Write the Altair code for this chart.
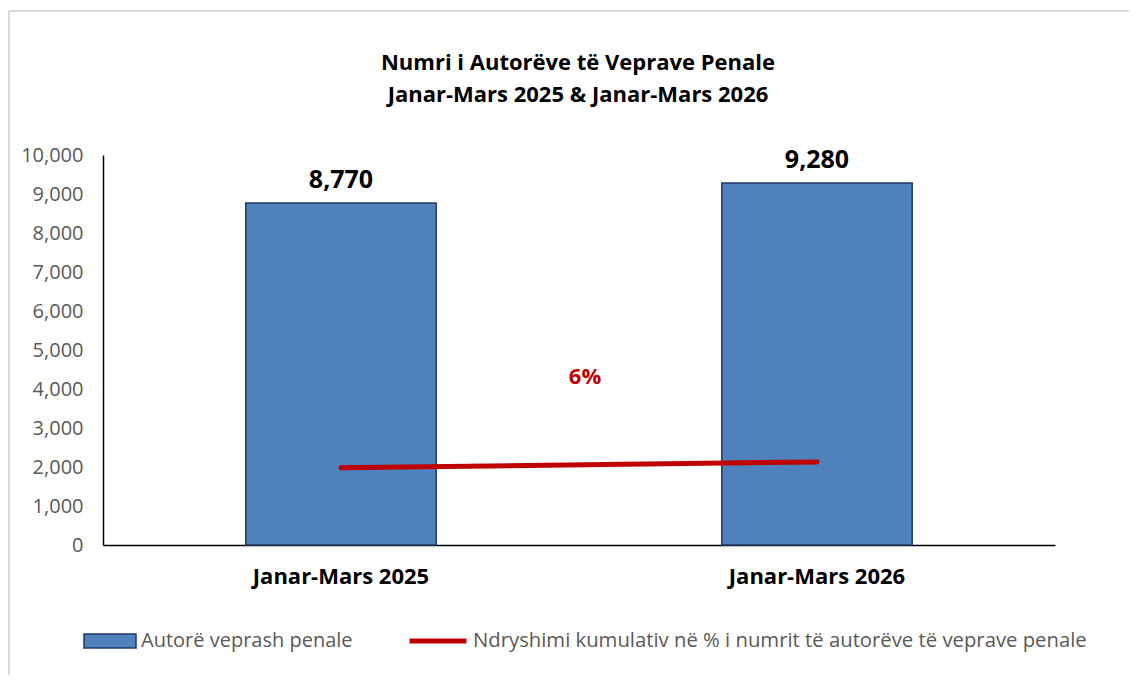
import altair as alt
import pandas as pd

categories = ["Janar-Mars 2025", "Janar-Mars 2026"]
bar_values = [8770, 9280]
bar_labels = ["8,770", "9,280"]
line_values = [1980, 2130]
change_label = ["6%"]
change_pos = [4300]
bar_series = "Autorë veprash penale"
line_series = "Ndryshimi kumulativ në % i numrit të autorëve të veprave penale"
title_lines = ["Numri i Autorëve të Veprave Penale", "Janar-Mars 2025 & Janar-Mars 2026"]

FONT = "Open Sans"
W, H = 952, 390

bars_df = pd.DataFrame({"cat": categories, "val": bar_values, "lab": bar_labels,
                        "series": [bar_series] * 2})
line_df = pd.DataFrame({"cat": categories, "val": line_values, "series": [line_series] * 2})
ann_df = pd.DataFrame({"lab": change_label, "val": change_pos})
frame_df = pd.DataFrame({"k": [0]})

xenc = alt.X("cat:N", sort=categories,
             scale=alt.Scale(paddingInner=0.6, paddingOuter=0.3),
             axis=alt.Axis(title=None, labelAngle=0, ticks=False, domainColor="#000000",
                           domainWidth=1.5, labelFont=FONT, labelFontSize=22,
                           labelFontWeight="bold", labelColor="#000000", labelPadding=21))
yscale = alt.Scale(domain=[0, 10000])
yenc = alt.Y("val:Q", scale=yscale,
             axis=alt.Axis(title=None, values=list(range(0, 10001, 1000)), format=",.0f",
                           grid=False, ticks=False, domainColor="#000000", domainWidth=1.5,
                           labelFont=FONT, labelFontSize=20, labelColor="#595959",
                           labelPadding=20))

bars = alt.Chart(bars_df).mark_bar(stroke="#1F3864", strokeWidth=1.5).encode(
    x=xenc, y=yenc,
    fill=alt.Fill("series:N", scale=alt.Scale(domain=[bar_series], range=["#4F81BD"]),
                  legend=alt.Legend(title=None, orient="none", legendX=-20, legendY=H + 69,
                                    symbolType="M-1,-0.27L1,-0.27L1,0.27L-1,0.27Z",
                                    symbolSize=2704, symbolStrokeColor="#1F3864",
                                    symbolStrokeWidth=1.5, symbolFillColor="#4F81BD",
                                    labelFont=FONT, labelFontSize=20, labelColor="#595959",
                                    labelOffset=4, labelLimit=900)),
)

bar_text = alt.Chart(bars_df).mark_text(font=FONT, fontSize=25, fontWeight="bold",
                                        color="#000000", baseline="bottom", dy=-10).encode(
    x=xenc, y=yenc, text="lab:N")

line = alt.Chart(line_df).mark_line(strokeWidth=5, strokeCap="round").encode(
    x=xenc, y=yenc,
    stroke=alt.Stroke("series:N", scale=alt.Scale(domain=[line_series], range=["#C00000"]),
                      legend=alt.Legend(title=None, orient="none", legendX=304, legendY=H + 65,
                                        symbolType="stroke", symbolSize=3249,
                                        symbolStrokeWidth=5, labelFont=FONT, labelFontSize=20.3,
                                        labelColor="#595959", labelOffset=4, labelLimit=900)),
)

ann = alt.Chart(ann_df).mark_text(font=FONT, fontSize=22, fontWeight="bold",
                                  color="#C00000").encode(
    x=alt.value(482), y=yenc, text="lab:N")

title1 = alt.Chart(pd.DataFrame({"t": [title_lines[0]]})).mark_text(
    font=FONT, fontSize=22, fontWeight="bold", color="#000000", baseline="middle").encode(
    x=alt.value(W / 2 - 1), y=alt.value(-92), text="t:N")
title2 = alt.Chart(pd.DataFrame({"t": [title_lines[1]]})).mark_text(
    font=FONT, fontSize=22, fontWeight="bold", color="#000000", baseline="middle").encode(
    x=alt.value(W / 2 - 1), y=alt.value(-60), text="t:N")

frame_left = alt.Chart(frame_df).mark_rule(color="#D9D9D9", strokeWidth=2).encode(
    x=alt.value(-94), y=alt.value(-144), y2=alt.value(520))
frame_top = alt.Chart(frame_df).mark_rule(color="#D9D9D9", strokeWidth=2).encode(
    x=alt.value(-94), x2=alt.value(W + 74), y=alt.value(-144))

chart = alt.layer(frame_left, frame_top, title1, title2, bars, bar_text, line, ann).resolve_legend(
    fill="independent", stroke="independent").properties(
    width=W, height=H, background="#ffffff",
    padding={"left": 0, "top": 2, "right": 0, "bottom": 0},
).configure_view(strokeWidth=0)

chart.save("out.html", embed_options={"renderer": "svg", "actions": False})
